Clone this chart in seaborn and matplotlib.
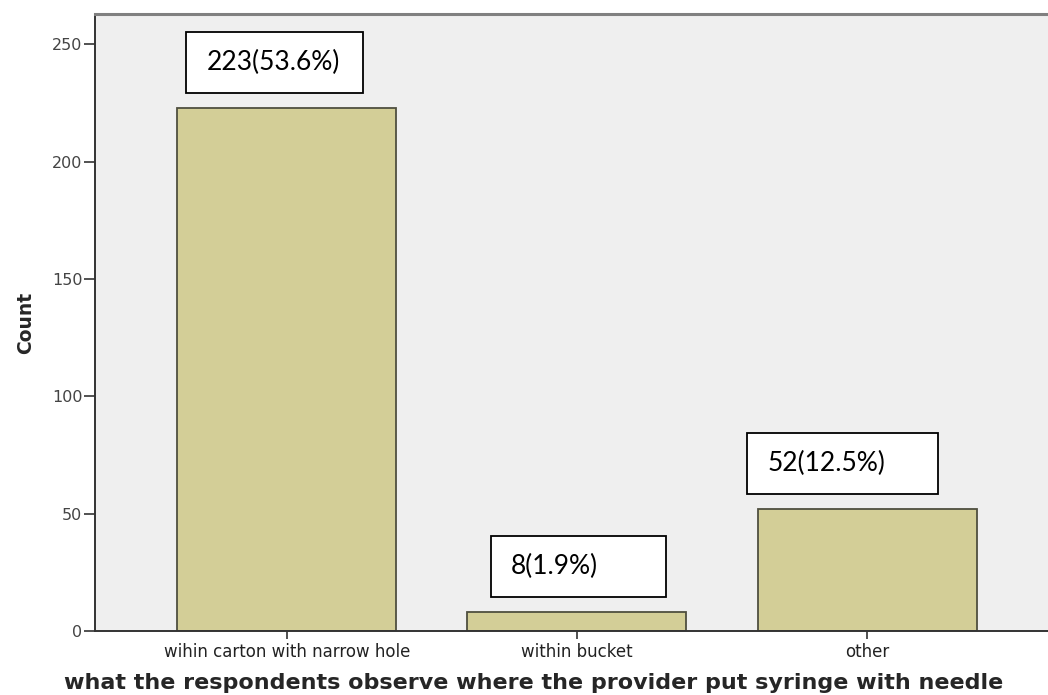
import matplotlib
matplotlib.use("Agg")
import matplotlib.pyplot as plt
from matplotlib.patches import Rectangle
import seaborn as sns
import pandas as pd

categories = ["wihin carton with narrow hole", "within bucket", "other"]
counts = [223, 8, 52]
labels = ["223(53.6%)", "8(1.9%)", "52(12.5%)"]

# label box placement relative to each bar: (left, right) offsets in category units
box_offsets = [(-0.348, 0.262), (-0.297, 0.307), (-0.414, 0.245)]

sns.set_theme(style="white")
plt.rcParams["font.family"] = ["DejaVu Sans"]

df = pd.DataFrame({"place": categories, "count": counts})

fig = plt.figure(figsize=(10.48, 6.95), dpi=100)
ax = fig.add_axes([0.0906, 0.0921, 0.9094, 0.8878])
ax.set_facecolor("#EFEFEF")

sns.barplot(data=df, x="place", y="count", color="#D3CE97", saturation=1,
            width=0.755, edgecolor="#4F4F3F", linewidth=1.3, ax=ax)

ax.set_xlim(-0.662, 2.624)
ax.set_ylim(0, 263)
ax.set_yticks([0, 50, 100, 150, 200, 250])

ax.spines["right"].set_visible(False)
ax.spines["top"].set_color("#808080")
ax.spines["top"].set_linewidth(2.2)
for side in ["left", "bottom"]:
    ax.spines[side].set_color("#333333")
    ax.spines[side].set_linewidth(1.4)

ax.tick_params(axis="y", direction="out", length=8, width=1.2, color="#333333",
               labelsize=11.5, labelcolor="#444444", pad=1, left=True)
ax.tick_params(axis="x", direction="out", length=6, width=1.2, color="#333333",
               labelsize=12, labelcolor="#222222", pad=3, bottom=True)

ax.set_ylabel("Count", fontsize=13.5, fontweight="bold", labelpad=12)
ax.set_xlabel("what the respondents observe where the provider put syringe with needle",
              fontsize=16, fontweight="bold")
ax.xaxis.label.set_va("baseline")
ax.xaxis.set_label_coords(0.46, -0.0940)

# value boxes above the bars
box_height = 26
for i, (val, txt, (lo, hi)) in enumerate(zip(counts, labels, box_offsets)):
    bottom = val + 6.5
    ax.add_patch(Rectangle((i + lo, bottom), hi - lo, box_height,
                           facecolor="white", edgecolor="black", linewidth=1.3,
                           zorder=5, clip_on=False))
    ax.text(i + lo + 0.07, bottom + box_height / 2, txt, ha="left", va="center",
            fontsize=19, family=["Lato"], color="black", zorder=6)

fig.savefig("out.png", dpi=100)
